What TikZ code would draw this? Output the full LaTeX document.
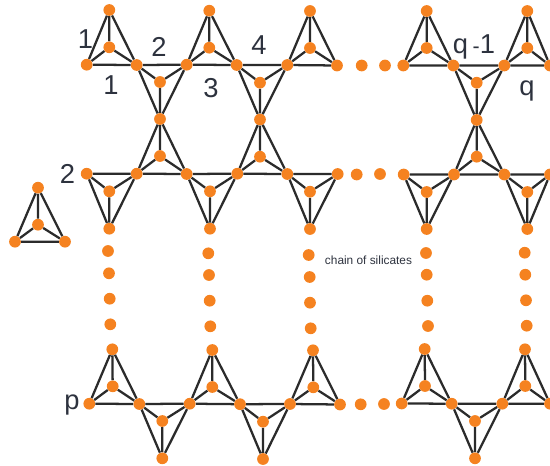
\documentclass[tikz,border=0pt]{standalone}
\usepackage{fontspec}
\setmainfont{Liberation Sans}
\definecolor{atomorange}{RGB}{245,130,32}
\definecolor{bonddark}{RGB}{43,43,43}
\definecolor{labeldark}{RGB}{45,50,62}

\begin{document}
\begin{tikzpicture}[
    x=0.75pt, y=-0.75pt,
    % Node styles
    atom/.style={circle, fill=atomorange, minimum size=8.8pt, inner sep=0pt},
    index/.style={font=\fontsize{20.5}{20.5}\selectfont, text=labeldark, inner sep=0pt},
    note/.style={font=\fontsize{8.9}{8.9}\selectfont, text=labeldark, inner sep=0pt},
    bond/.style={draw=bonddark, line width=1.7pt},
]
\useasboundingbox (0,0) rectangle (550,465);

% ============================================================
% Top row: base atoms
% ============================================================
\node[atom] (tb1) at (86.7, 64.7) {};
\node[atom] (tb2) at (136.7, 65) {};
\node[atom] (tb3) at (186.7, 64.7) {};
\node[atom] (tb4) at (236.7, 65) {};
\node[atom] (tb5) at (287.3, 65) {};
\node[atom] (tb6) at (337, 65.5) {};
\node[atom] (tb7) at (403.3, 65.5) {};
\node[atom] (tb8) at (453.3, 65.5) {};
\node[atom] (tb9) at (504.3, 65.5) {};
\node[atom] (tb10) at (550, 65.5) {};

% ============================================================
% Top row: apexes and centres
% ============================================================
\node[atom] (ta1) at (109.3, 10) {};
\node[atom] (tc1) at (109.3, 47.3) {};
\node[atom] (ta2) at (160, 119) {};
\node[atom] (tc2) at (160, 82) {};
\node[atom] (ta3) at (209.3, 10.7) {};
\node[atom] (tc3) at (209.3, 47.7) {};
\node[atom] (ta4) at (260, 119.5) {};
\node[atom] (tc4) at (260, 82.7) {};
\node[atom] (ta5) at (310, 11) {};
\node[atom] (tc5) at (310, 48) {};
\node[atom] (ta6) at (426.7, 11) {};
\node[atom] (tc6) at (426.7, 48) {};
\node[atom] (ta7) at (476.7, 120) {};
\node[atom] (tc7) at (476.7, 82.7) {};
\node[atom] (ta8) at (527.3, 11) {};
\node[atom] (tc8) at (527.3, 48) {};

% ============================================================
% Middle row: base atoms
% ============================================================
\node[atom] (mb1) at (86.7, 173.7) {};
\node[atom] (mb2) at (136.7, 173.7) {};
\node[atom] (mb3) at (186.7, 174) {};
\node[atom] (mb4) at (237.3, 173.7) {};
\node[atom] (mb5) at (287.3, 174) {};
\node[atom] (mb6) at (337.7, 174) {};
\node[atom] (mb7) at (403.7, 174.5) {};
\node[atom] (mb8) at (454, 174.5) {};
\node[atom] (mb9) at (504.3, 174.5) {};
\node[atom] (mb10) at (550, 174.5) {};

% ============================================================
% Middle row: apexes and centres
% ============================================================
\node[atom] (ma1) at (109.3, 228.7) {};
\node[atom] (mc1) at (109.3, 191.3) {};
\node[atom] (mc2) at (160, 156) {};
\node[atom] (ma3) at (210, 228.7) {};
\node[atom] (mc3) at (210, 191.3) {};
\node[atom] (mc4) at (260, 156.7) {};
\node[atom] (ma5) at (310, 229) {};
\node[atom] (mc5) at (310, 191.7) {};
\node[atom] (ma6) at (426.7, 229) {};
\node[atom] (mc6) at (426.7, 192) {};
\node[atom] (mc7) at (476.7, 156.7) {};
\node[atom] (ma8) at (527.3, 229) {};
\node[atom] (mc8) at (527.3, 192) {};

% ============================================================
% Bottom row: base atoms
% ============================================================
\node[atom] (pb1) at (89.3, 403.7) {};
\node[atom] (pb2) at (139.3, 404) {};
\node[atom] (pb3) at (189.7, 403.7) {};
\node[atom] (pb4) at (240, 404.2) {};
\node[atom] (pb5) at (290, 404) {};
\node[atom] (pb6) at (340, 404.5) {};
\node[atom] (pb7) at (401.7, 403.5) {};
\node[atom] (pb8) at (451.7, 403.7) {};
\node[atom] (pb9) at (502.3, 403.7) {};
\node[atom] (pb10) at (550, 403.7) {};

% ============================================================
% Bottom row: apexes and centres
% ============================================================
\node[atom] (pa1) at (112.3, 349.3) {};
\node[atom] (pc1) at (112.7, 386.3) {};
\node[atom] (pa2) at (162.3, 458.3) {};
\node[atom] (pc2) at (162.3, 421) {};
\node[atom] (pa3) at (212.3, 350) {};
\node[atom] (pc3) at (212.3, 387) {};
\node[atom] (pa4) at (263, 459) {};
\node[atom] (pc4) at (263, 421.7) {};
\node[atom] (pa5) at (313, 350.3) {};
\node[atom] (pc5) at (313.3, 387.3) {};
\node[atom] (pa6) at (424.7, 349) {};
\node[atom] (pc6) at (425, 386) {};
\node[atom] (pa7) at (475, 458.3) {};
\node[atom] (pc7) at (475, 421) {};
\node[atom] (pa8) at (525, 349.3) {};
\node[atom] (pc8) at (525.3, 386) {};

% ============================================================
% Single tetrahedron on the left
% ============================================================
\node[atom] (sa) at (38, 187.7) {};
\node[atom] (sc) at (38, 224.7) {};
\node[atom] (sb1) at (15, 241.7) {};
\node[atom] (sb2) at (65, 241.7) {};

% ============================================================
% Dots between the columns and along the rows
% ============================================================
\node[atom] (d11) at (108, 251) {};
\node[atom] (d12) at (109, 273.3) {};
\node[atom] (d13) at (109.7, 298.7) {};
\node[atom] (d14) at (110.3, 324.3) {};
\node[atom] (d21) at (208.3, 253.3) {};
\node[atom] (d22) at (209, 275) {};
\node[atom] (d23) at (209.7, 300.7) {};
\node[atom] (d24) at (210.3, 326.3) {};
\node[atom] (d31) at (308.7, 255) {};
\node[atom] (d32) at (309.7, 277) {};
\node[atom] (d33) at (310, 302.7) {};
\node[atom] (d34) at (310.7, 328.3) {};
\node[atom] (d41) at (426, 253) {};
\node[atom] (d42) at (426.7, 274.7) {};
\node[atom] (d43) at (427.3, 300.7) {};
\node[atom] (d44) at (428, 326) {};
\node[atom] (d51) at (524.7, 252.7) {};
\node[atom] (d52) at (525.3, 274.7) {};
\node[atom] (d53) at (526, 300.3) {};
\node[atom] (d54) at (526.7, 325.7) {};
\node[atom] (h11) at (361.7, 65.5) {};
\node[atom] (h12) at (385, 65.5) {};
\node[atom] (h21) at (356.7, 174.5) {};
\node[atom] (h22) at (380, 174) {};
\node[atom] (h31) at (360.7, 404.3) {};
\node[atom] (h32) at (384, 404) {};

% ============================================================
% Bonds: top row
% ============================================================
\draw[bond] (tb1) -- (tb2) -- (ta1) -- (tb1) -- (tc1) -- (tb2) (tc1) -- (ta1);
\draw[bond] (tb2) -- (tb3) -- (ta2) -- (tb2) -- (tc2) -- (tb3) (tc2) -- (ta2);
\draw[bond] (tb3) -- (tb4) -- (ta3) -- (tb3) -- (tc3) -- (tb4) (tc3) -- (ta3);
\draw[bond] (tb4) -- (tb5) -- (ta4) -- (tb4) -- (tc4) -- (tb5) (tc4) -- (ta4);
\draw[bond] (tb5) -- (tb6) -- (ta5) -- (tb5) -- (tc5) -- (tb6) (tc5) -- (ta5);
\draw[bond] (tb7) -- (tb8) -- (ta6) -- (tb7) -- (tc6) -- (tb8) (tc6) -- (ta6);
\draw[bond] (tb8) -- (tb9) -- (ta7) -- (tb8) -- (tc7) -- (tb9) (tc7) -- (ta7);
\draw[bond] (tb9) -- (tb10) -- (ta8) -- (tb9) -- (tc8) -- (tb10) (tc8) -- (ta8);

% ============================================================
% Bonds: middle row
% ============================================================
\draw[bond] (mb1) -- (mb2) -- (ma1) -- (mb1) -- (mc1) -- (mb2) (mc1) -- (ma1);
\draw[bond] (mb2) -- (mb3) -- (ta2) -- (mb2) -- (mc2) -- (mb3) (mc2) -- (ta2);
\draw[bond] (mb3) -- (mb4) -- (ma3) -- (mb3) -- (mc3) -- (mb4) (mc3) -- (ma3);
\draw[bond] (mb4) -- (mb5) -- (ta4) -- (mb4) -- (mc4) -- (mb5) (mc4) -- (ta4);
\draw[bond] (mb5) -- (mb6) -- (ma5) -- (mb5) -- (mc5) -- (mb6) (mc5) -- (ma5);
\draw[bond] (mb7) -- (mb8) -- (ma6) -- (mb7) -- (mc6) -- (mb8) (mc6) -- (ma6);
\draw[bond] (mb8) -- (mb9) -- (ta7) -- (mb8) -- (mc7) -- (mb9) (mc7) -- (ta7);
\draw[bond] (mb9) -- (mb10) -- (ma8) -- (mb9) -- (mc8) -- (mb10) (mc8) -- (ma8);

% ============================================================
% Bonds: bottom row
% ============================================================
\draw[bond] (pb1) -- (pb2) -- (pa1) -- (pb1) -- (pc1) -- (pb2) (pc1) -- (pa1);
\draw[bond] (pb2) -- (pb3) -- (pa2) -- (pb2) -- (pc2) -- (pb3) (pc2) -- (pa2);
\draw[bond] (pb3) -- (pb4) -- (pa3) -- (pb3) -- (pc3) -- (pb4) (pc3) -- (pa3);
\draw[bond] (pb4) -- (pb5) -- (pa4) -- (pb4) -- (pc4) -- (pb5) (pc4) -- (pa4);
\draw[bond] (pb5) -- (pb6) -- (pa5) -- (pb5) -- (pc5) -- (pb6) (pc5) -- (pa5);
\draw[bond] (pb7) -- (pb8) -- (pa6) -- (pb7) -- (pc6) -- (pb8) (pc6) -- (pa6);
\draw[bond] (pb8) -- (pb9) -- (pa7) -- (pb8) -- (pc7) -- (pb9) (pc7) -- (pa7);
\draw[bond] (pb9) -- (pb10) -- (pa8) -- (pb9) -- (pc8) -- (pb10) (pc8) -- (pa8);

% Single tetrahedron
\draw[bond] (sb1) -- (sb2) -- (sa) -- (sb1) -- (sc) -- (sb2) (sc) -- (sa);

% ============================================================
% Labels
% ============================================================
\node[index] (lab1a) at (85.5, 39) {1};
\node[index] (lab1b) at (111, 85.5) {1};
\node[index] (lab2a) at (159, 46.5) {2};
\node[index] (lab3) at (211, 88) {3};
\node[index] (lab4) at (259, 45.5) {4};
\node[index] (labq1) at (474, 47) {q\,{\fontsize{16}{16}\selectfont -}1};
\node[index] (labq) at (527, 91) {q};
\node[index] (lab2b) at (67.5, 174) {2};
\node[index] (labp) at (72, 405) {p};
\node[note] (chain) at (368.5, 260.5) {chain of silicates};

\end{tikzpicture}
\end{document}
